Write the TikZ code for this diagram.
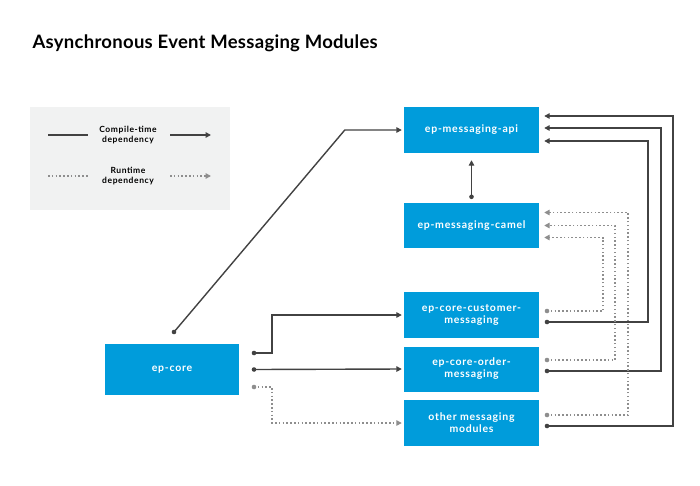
\documentclass[tikz,border=0pt]{standalone}
\usepackage{fontspec}
\setmainfont{Lato}
\newfontfamily\boxfont[LetterSpace=7]{Lato}
\newfontfamily\titlefont[LetterSpace=1.5]{Lato}
\usetikzlibrary{arrows.meta}

\definecolor{boxblue}{HTML}{009CDB}
\definecolor{linedark}{HTML}{424242}
\definecolor{linegrey}{HTML}{8E8E8E}
\definecolor{legendbg}{HTML}{F1F2F2}

\tikzset{
  module/.style={fill=boxblue, text=white, align=center, inner sep=0pt,
    font=\boxfont\bfseries\fontsize{10.5}{12}\selectfont,
    minimum width=135pt, minimum height=46pt},
  compile/.style={draw=linedark, line width=1.4pt,
    -{Triangle[length=5.5pt,width=5.5pt]}},
  runtime/.style={draw=linegrey, line width=1.4pt,
    dash pattern=on 1.5pt off 2.3pt,
    -{Triangle[length=5.5pt,width=5.5pt]}},
  legendtext/.style={align=center, text=black,
    font=\boxfont\bfseries\fontsize{8.5}{9.5}\selectfont},
}

\begin{document}
\begin{tikzpicture}[x=1pt, y=-1pt]
    \useasboundingbox (0,0) rectangle (700,485);

    \node [anchor=west, font=\titlefont\bfseries\fontsize{18.5}{20}\selectfont]
    (title) at (29,43) {Asynchronous Event Messaging Modules};

    % legenda
    \fill [legendbg] (30,107) rectangle (230,210);

    \node [legendtext] (leg-compile) at (128,135) {Compile-time\\dependency};
    \node [legendtext] (leg-runtime) at (128,176) {Runtime\\dependency};

    \coordinate (lc1) at (48,135); \coordinate (lc2) at (88,135);
    \coordinate (lc3) at (170,135); \coordinate (lc4) at (211,135);
    \coordinate (lr1) at (48,176); \coordinate (lr2) at (88,176);
    \coordinate (lr3) at (170,176); \coordinate (lr4) at (211,176);

    \draw [compile, -] (lc1) -- (lc2);
    \draw [compile] (lc3) -- (lc4);
    \draw [runtime, -] (lr1) -- (lr2);
    \draw [runtime] (lr3) -- (lr4);

    % moduly
    \node [module] (api) at (471.5,130) {ep-messaging-api};
    \node [module, minimum height=45pt] (camel) at (471.5,225.5)
    {ep-messaging-camel};
    \node [module] (customer) at (471.5,315)
    {ep-core-customer-\\messaging};
    \node [module, minimum height=45pt] (order) at (471.5,369)
    {ep-core-order-\\messaging};
    \node [module] (other) at (471.5,423) {other messaging\\modules};
    \node [module, minimum width=134pt, minimum height=51pt] (core)
    at (172,369.5) {ep-core};

    % punkty startowe
    \coordinate (core-up) at (174,332);
    \coordinate (core-a) at (254,353);
    \coordinate (core-b) at (254,369.5);
    \coordinate (core-c) at (254,387);
    \coordinate (camel-up) at ([yshift=6pt]camel.north);
    \coordinate (cust-rt) at (547,311);  \coordinate (cust-ct) at (547,322);
    \coordinate (order-rt) at (547,360); \coordinate (order-ct) at (547,371);
    \coordinate (other-rt) at (547,415); \coordinate (other-ct) at (547,426);

    \draw [compile] (core-up) -- ([xshift=-59pt]api.west)
    -- ([xshift=-2pt]api.west);
    \draw [compile] (core-a) -- ++(18,0) |- ([xshift=-2pt]customer.west);
    \draw [compile] (core-b) -- ([xshift=-2pt]order.west);
    \draw [runtime] (core-c) -- ++(18,0) |- ([xshift=-2pt]other.west);

    \draw [compile] (camel-up) -- ([yshift=-7pt]api.south);

    \draw [compile] (other-ct) -- ++(126,0)
    |- ([xshift=5pt, yshift=14pt]api.east);
    \draw [compile] (order-ct) -- ++(114,0)
    |- ([xshift=5pt, yshift=2pt]api.east);
    \draw [compile] (cust-ct) -- ++(101,0)
    |- ([xshift=5pt, yshift=-11pt]api.east);

    \draw [runtime] (other-rt) -- ++(81,0)
    |- ([xshift=5pt, yshift=13pt]camel.east);
    \draw [runtime] (order-rt) -- ++(68,0)
    |- ([xshift=5pt]camel.east);
    \draw [runtime] (cust-rt) -- ++(56,0)
    |- ([xshift=5pt, yshift=-12pt]camel.east);

    \foreach \p in {core-up, core-a, core-b, camel-up, cust-ct, order-ct,
      other-ct}
    \fill [linedark] (\p) circle (2.3pt);
    \foreach \p in {core-c, cust-rt, order-rt, other-rt}
    \fill [linegrey] (\p) circle (2.3pt);

  \end{tikzpicture}
\end{document}
